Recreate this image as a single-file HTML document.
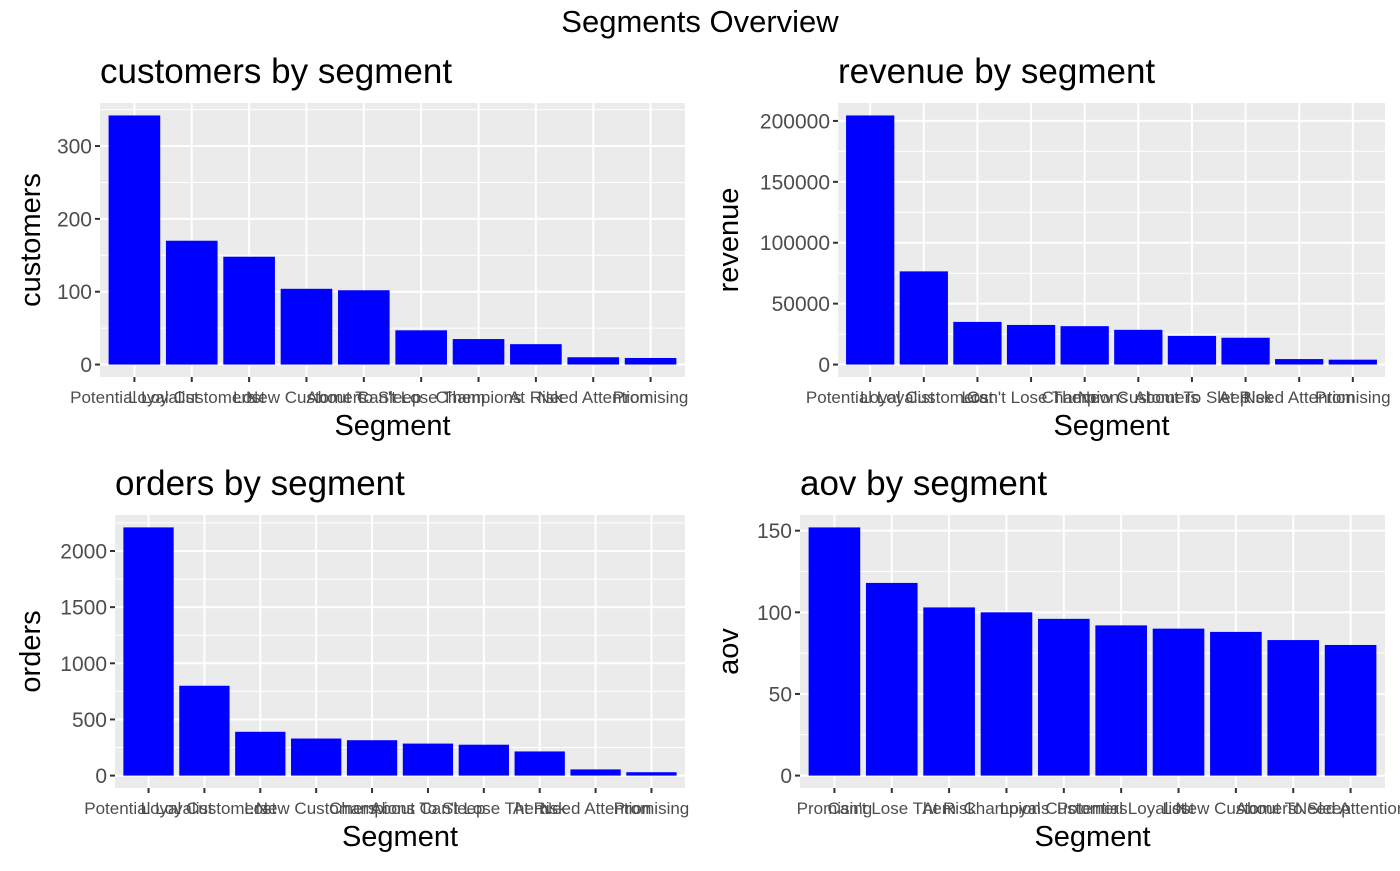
<!DOCTYPE html>
<html><head><meta charset="utf-8"><style>
body{margin:0;background:#fff;font-family:"Liberation Sans",Arial,sans-serif}
svg text{font-family:"Liberation Sans",Arial,sans-serif}
</style></head><body>
<svg id="c" width="1400" height="866" xmlns="http://www.w3.org/2000/svg">
<rect width="1400" height="866" fill="#fff"/>
<text x="700" y="32" text-anchor="middle" font-size="31" fill="#000">Segments Overview</text>
</svg>
<script>
const cust_cats=["Potential Loyalist","Loyal Customers","Lost","New Customers","About To Sleep","Can't Lose Them","Champions","At Risk","Need Attention","Promising"];
const cust_vals=[342,170,148,104,102,47,35,28,10,9];
const cust_ticks=[0,100,200,300];
const rev_cats=["Potential Loyalist","Loyal Customers","Lost","Can't Lose Them","Champions","New Customers","About To Sleep","At Risk","Need Attention","Promising"];
const rev_vals=[204500,76500,35000,32500,31500,28500,23500,22000,4500,4000];
const rev_ticks=[0,50000,100000,150000,200000];
const ord_cats=["Potential Loyalist","Loyal Customers","Lost","New Customers","Champions","About To Sleep","Can't Lose Them","At Risk","Need Attention","Promising"];
const ord_vals=[2210,800,390,330,315,285,275,215,55,30];
const ord_ticks=[0,500,1000,1500,2000];
const aov_cats=["Promising","Can't Lose Them","At Risk","Champions","Loyal Customers","Potential Loyalist","Lost","New Customers","About To Sleep","Need Attention"];
const aov_vals=[152,118,103,100,96,92,90,88,83,80];
const aov_ticks=[0,50,100,150];

const NS="http://www.w3.org/2000/svg";
const svg=document.getElementById('c');
function el(tag,attrs,parent){const e=document.createElementNS(NS,tag);for(const k in attrs)e.setAttribute(k,attrs[k]);(parent||svg).appendChild(e);return e;}

function panel(key,title,ylab,cats,vals,ticks,L,R,T,B,titleX,ylabX){
  const g=el('g',{});
  
  
  const mx=Math.max(...vals);
  const lo=-0.05*mx, hi=mx*1.05;
  const y=v=>B-(v-lo)/(hi-lo)*(B-T);
  const n=cats.length;
  const x=i=>L+(i+1-0.4)/(n+0.2)*(R-L);
  const bw=0.9/(n+0.2)*(R-L);
  const bg=el('rect',{x:L,y:T,width:R-L,height:B-T,fill:'#EBEBEB'},g);
  
  
  const step=ticks[1]-ticks[0];
  for(let k=-1;k<ticks.length;k++){
    const v=ticks[0]+step*(k+0.5);
    if(v>lo&&v<hi){el('line',{x1:L,x2:R,y1:y(v),y2:y(v),stroke:'#fff','stroke-width':1},g);}
  }
  ticks.forEach(t=>{
    el('line',{x1:L,x2:R,y1:y(t),y2:y(t),stroke:'#fff','stroke-width':2},g);
    el('line',{x1:L-5,x2:L,y1:y(t),y2:y(t),stroke:'#333','stroke-width':2},g);
    const tl=el('text',{x:L-8,y:y(t)+7.5,'text-anchor':'end','font-size':21,fill:'#4D4D4D'},g);
    tl.textContent=t;
    
    
  });
  cats.forEach((c,i)=>{
    el('line',{x1:x(i),x2:x(i),y1:T,y2:B,stroke:'#fff','stroke-width':2},g);
  });
  cats.forEach((c,i)=>{
    const v=vals[i];
    const r=el('rect',{x:x(i)-bw/2,y:Math.min(y(v),y(0)),width:bw,height:Math.abs(y(0)-y(v)),fill:'#0000FF'},g);
    
    
    el('line',{x1:x(i),x2:x(i),y1:B,y2:B+5,stroke:'#333','stroke-width':2},g);
    const tl=el('text',{x:x(i),y:B+26,'text-anchor':'middle','font-size':17,fill:'#4D4D4D'},g);
    tl.textContent=c;
    
    
  });
  const tt=el('text',{x:titleX,y:T-20,'font-size':35,fill:'#000'},g);
  tt.textContent=title;
  
  
  const xt=el('text',{x:(L+R)/2,y:B+58,'text-anchor':'middle','font-size':29,fill:'#000'},g);
  xt.textContent='Segment';
  
  
  const cy=(T+B)/2;
  const yt=el('text',{x:ylabX,y:cy,'text-anchor':'middle','font-size':29,fill:'#000',transform:`rotate(-90 ${ylabX} ${cy})`},g);
  yt.textContent=ylab;
  
  
}
panel('customers','customers by segment','customers',cust_cats,cust_vals,cust_ticks,100,685,103,377,100,40);
panel('revenue','revenue by segment','revenue',rev_cats,rev_vals,rev_ticks,838,1385,103,377,838,738);
panel('orders','orders by segment','orders',ord_cats,ord_vals,ord_ticks,115,685,515,788,115,40);
panel('aov','aov by segment','aov',aov_cats,aov_vals,aov_ticks,800,1385,515,788,800,738);
</script>
</body></html>
